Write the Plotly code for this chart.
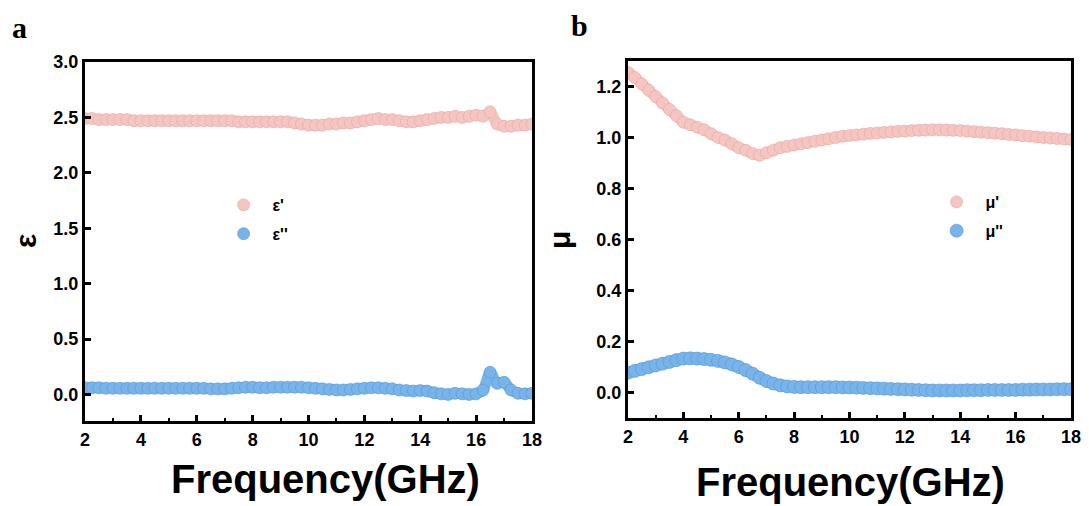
import numpy as np
import plotly.graph_objects as go

# frequency grid (GHz)
freq = np.round(np.arange(2.0, 18.0001, 0.25), 2)

eps_real = [2.49, 2.49, 2.48, 2.48, 2.48,
            2.48, 2.48, 2.47, 2.47, 2.47,
            2.47, 2.47, 2.47, 2.47, 2.47,
            2.47, 2.47, 2.47, 2.47, 2.47,
            2.47, 2.47, 2.46, 2.46, 2.46,
            2.46, 2.46, 2.46, 2.46, 2.46,
            2.45, 2.44, 2.43, 2.43, 2.43,
            2.44, 2.44, 2.45, 2.45, 2.46,
            2.47, 2.48, 2.49, 2.48, 2.48,
            2.47, 2.46, 2.46, 2.47, 2.48,
            2.49, 2.50, 2.50, 2.51, 2.50,
            2.51, 2.52, 2.51, 2.55, 2.44,
            2.42, 2.42, 2.43, 2.43, 2.44]

eps_imag = [0.06, 0.06, 0.06, 0.055, 0.055,
            0.055, 0.055, 0.055, 0.055, 0.055,
            0.055, 0.055, 0.055, 0.055, 0.055,
            0.055, 0.055, 0.055, 0.05, 0.05,
            0.05, 0.055, 0.06, 0.065, 0.065,
            0.06, 0.06, 0.065, 0.065, 0.065,
            0.065, 0.065, 0.06, 0.055, 0.05,
            0.045, 0.04, 0.04, 0.045, 0.05,
            0.055, 0.06, 0.06, 0.055, 0.05,
            0.04, 0.035, 0.03, 0.035, 0.03,
            0.015, 0.005, 0.0, 0.01, 0.005,
            0.0, 0.005, 0.04, 0.20, 0.10,
            0.11, 0.04, 0.01, 0.005, 0.01]

mu_real = [1.255, 1.235, 1.21, 1.185, 1.16,
           1.135, 1.11, 1.085, 1.06, 1.05,
           1.04, 1.03, 1.015, 1.0, 0.99,
           0.975, 0.96, 0.95, 0.937, 0.93,
           0.94, 0.95, 0.96, 0.965, 0.97,
           0.975, 0.98, 0.985, 0.99, 0.995,
           1.0, 1.005, 1.008, 1.01, 1.013,
           1.016, 1.018, 1.02, 1.022, 1.024,
           1.025, 1.027, 1.028, 1.029, 1.03,
           1.03, 1.029, 1.028, 1.027, 1.025,
           1.023, 1.021, 1.019, 1.017, 1.015,
           1.012, 1.01, 1.007, 1.005, 1.002,
           1.0, 0.998, 0.996, 0.994, 0.992]

mu_imag = [0.078, 0.085, 0.092, 0.099, 0.106,
           0.113, 0.12, 0.127, 0.133, 0.134,
           0.133, 0.131, 0.128, 0.124, 0.118,
           0.11, 0.1, 0.088, 0.074, 0.058,
           0.045, 0.035, 0.028, 0.024, 0.022,
           0.021, 0.021, 0.021, 0.021, 0.021,
           0.021, 0.02, 0.02, 0.019, 0.018,
           0.017, 0.016, 0.015, 0.014, 0.013,
           0.012, 0.011, 0.01, 0.009, 0.008,
           0.008, 0.008, 0.008, 0.008, 0.009,
           0.009, 0.009, 0.01, 0.01, 0.01,
           0.01, 0.01, 0.011, 0.011, 0.012,
           0.012, 0.012, 0.013, 0.013, 0.013]

x_ticks = [2, 4, 6, 8, 10, 12, 14, 16, 18]
eps_ticks = [0.0, 0.5, 1.0, 1.5, 2.0, 2.5, 3.0]
mu_ticks = [0.0, 0.2, 0.4, 0.6, 0.8, 1.0, 1.2]

PINK = "rgb(245,198,193)"
PINK_EDGE = "rgba(230,168,162,0.8)"
BLUE = "rgb(120,180,234)"
BLUE_EDGE = "rgba(86,152,218,0.8)"

W, H = 1089, 506
OFF = 8  # page body margin

def PX(x):
    return (x - OFF) / W

def PY(y):
    return 1 - (y - OFF) / H

fig = go.Figure()

def add(x, y, name, xa, ya, fill, edge, legend, width):
    fig.add_trace(go.Scatter(
        x=x, y=y, mode="lines", xaxis=xa, yaxis=ya, showlegend=False,
        line=dict(color=fill, width=width, shape="spline", smoothing=0.6),
        hoverinfo="skip",
    ))
    fig.add_trace(go.Scatter(
        x=x, y=y, mode="markers", name="\u00a0\u00a0" + name, xaxis=xa, yaxis=ya,
        legend=legend, legendgroup=name,
        marker=dict(symbol="circle", size=width + 1, color=fill,
                    line=dict(color=edge, width=0.8)),
    ))

add(freq, eps_real, "ε'", "x", "y", PINK, PINK_EDGE, "legend", 11)
add(freq, eps_imag, "ε''", "x", "y", BLUE, BLUE_EDGE, "legend", 11)
add(freq, mu_real, "μ'", "x2", "y2", PINK, PINK_EDGE, "legend2", 11)
add(freq, mu_imag, "μ''", "x2", "y2", BLUE, BLUE_EDGE, "legend2", 12)

tickfont = dict(family="Arial, Liberation Sans", size=18, color="black", weight="bold")

xcommon = dict(range=[2, 18], tickvals=x_ticks, ticks="inside", ticklen=6, tickwidth=2.5,
               tickcolor="black", showline=True, linewidth=3, linecolor="black",
               mirror=True, showgrid=False, zeroline=False, tickfont=tickfont,
               automargin=False,
               minor=dict(dtick=1, ticks="inside", ticklen=3, tickwidth=2, tickcolor="black"))
ycommon = dict(ticks="inside", ticklen=6, tickwidth=2.5, tickcolor="black",
               showline=True, linewidth=3, linecolor="black", mirror=True,
               showgrid=False, zeroline=False, tickfont=tickfont, tickformat=".1f",
               automargin=False)

legfont = dict(family="Arial, Liberation Sans", size=16, color="black", weight="bold")

fig.update_layout(
    width=W, height=H,
    margin=dict(l=0, r=0, t=0, b=0, autoexpand=False),
    paper_bgcolor="white", plot_bgcolor="white",
    xaxis=dict(domain=[PX(85), PX(532)], anchor="y", **xcommon),
    yaxis=dict(domain=[PY(421), PY(62)], anchor="x", range=[-0.24, 3.0],
               tickvals=eps_ticks, **ycommon),
    xaxis2=dict(domain=[PX(628), PX(1071)], anchor="y2", **xcommon),
    yaxis2=dict(domain=[PY(418), PY(61)], anchor="x2", range=[-0.1, 1.3],
                tickvals=mu_ticks, **ycommon),
    legend=dict(x=PX(245) - 21.4 / W, y=PY(203) + 15 / H, xanchor="left", yanchor="top",
                bgcolor="rgba(0,0,0,0)", font=legfont,
                traceorder="grouped", tracegroupgap=5),
    legend2=dict(x=PX(958) - 21.4 / W, y=PY(200) + 15 / H, xanchor="left", yanchor="top",
                 bgcolor="rgba(0,0,0,0)", font=legfont,
                 traceorder="grouped", tracegroupgap=5),
    showlegend=True,
)

ann_font_title = dict(family="Arial, Liberation Sans", size=40, color="black", weight="bold")
sym_font = dict(family="Arial, Liberation Sans", size=30, color="black", weight="bold")
lab_font = dict(family="Times New Roman, Liberation Serif", size=30, color="black", weight="bold")
annotations = [
    dict(text="Frequency(GHz)", x=PX(325), y=PY(479), font=ann_font_title),
    dict(text="Frequency(GHz)", x=PX(850), y=PY(482), font=ann_font_title),
    dict(text="ε", x=PX(25), y=PY(241), textangle=-90, font=sym_font),
    dict(text="μ", x=PX(559), y=PY(240), textangle=-90, font=sym_font),
    dict(text="a", x=PX(19), y=PY(27), font=lab_font),
    dict(text="b", x=PX(579), y=PY(25), font=lab_font),
]
for a in annotations:
    a.update(xref="paper", yref="paper", showarrow=False, xanchor="center", yanchor="middle")
fig.update_layout(annotations=annotations)

fig.write_html("out.html")
